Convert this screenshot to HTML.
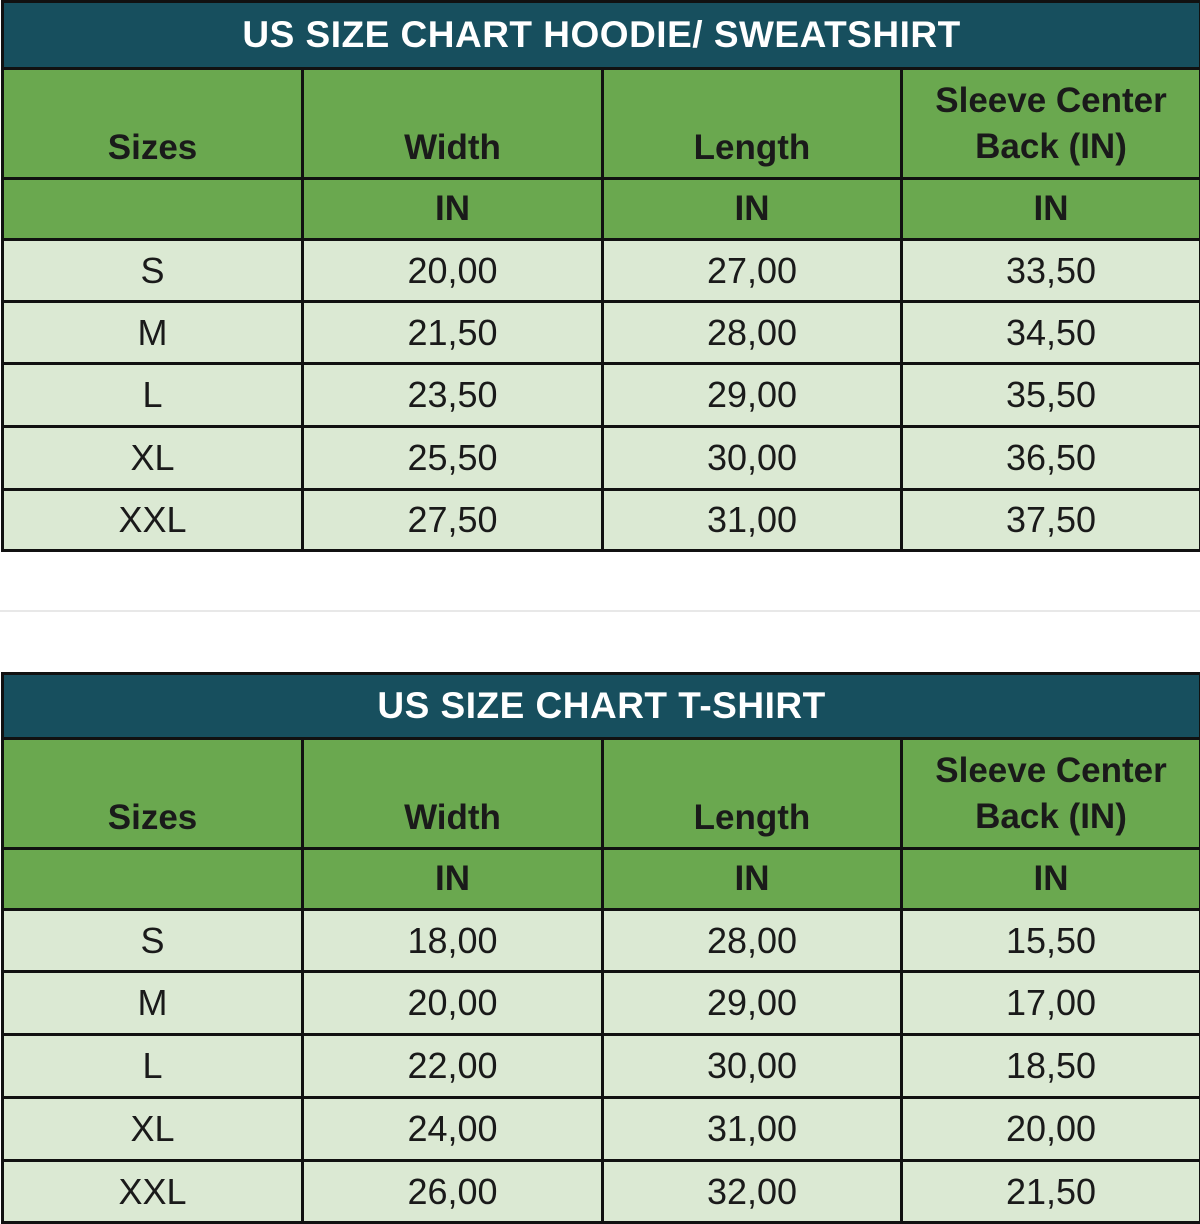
<!DOCTYPE html>
<html><head><meta charset="utf-8"><style>
html,body{margin:0;padding:0;background:#fff;width:1200px;height:1220px;overflow:hidden}
table{position:absolute;left:1px;width:1198px;border-collapse:collapse;table-layout:fixed;font-family:"Liberation Sans",sans-serif}
td{border:3px solid #111;text-align:center;vertical-align:middle;padding:0;color:#1a1a1a}
.t td{background:#174f5e;color:#fff;font-weight:bold;font-size:37px;letter-spacing:0.5px}
.h td{background:#6aa84f;font-weight:bold;font-size:35px;line-height:46px}
.h td.b{padding-top:48px}
.u td{background:#6aa84f;font-weight:bold;font-size:35px}
.d td{background:#dbe9d3;font-size:36px}
.line{position:absolute;left:0;width:1200px;height:2px;background:#e8e8e8;top:610px}
</style></head><body>
<div class="line"></div>
<table style="top:0">
<colgroup><col style="width:300px"><col style="width:300px"><col style="width:299px"><col style="width:299px"></colgroup>
<tr class="t" style="height:67px"><td colspan="4">US SIZE CHART HOODIE/ SWEATSHIRT</td></tr>
<tr class="h" style="height:110px"><td class="b">Sizes</td><td class="b">Width</td><td class="b">Length</td><td>Sleeve Center<br>Back (IN)</td></tr>
<tr class="u" style="height:61px"><td></td><td>IN</td><td>IN</td><td>IN</td></tr>
<tr class="d" style="height:62px"><td>S</td><td>20,00</td><td>27,00</td><td>33,50</td></tr>
<tr class="d" style="height:62px"><td>M</td><td>21,50</td><td>28,00</td><td>34,50</td></tr>
<tr class="d" style="height:63px"><td>L</td><td>23,50</td><td>29,00</td><td>35,50</td></tr>
<tr class="d" style="height:63px"><td>XL</td><td>25,50</td><td>30,00</td><td>36,50</td></tr>
<tr class="d" style="height:61px"><td>XXL</td><td>27,50</td><td>31,00</td><td>37,50</td></tr>
</table>
<table style="top:672px">
<colgroup><col style="width:300px"><col style="width:300px"><col style="width:299px"><col style="width:299px"></colgroup>
<tr class="t" style="height:65px"><td colspan="4">US SIZE CHART T-SHIRT</td></tr>
<tr class="h" style="height:110px"><td class="b">Sizes</td><td class="b">Width</td><td class="b">Length</td><td>Sleeve Center<br>Back (IN)</td></tr>
<tr class="u" style="height:61px"><td></td><td>IN</td><td>IN</td><td>IN</td></tr>
<tr class="d" style="height:62px"><td>S</td><td>18,00</td><td>28,00</td><td>15,50</td></tr>
<tr class="d" style="height:63px"><td>M</td><td>20,00</td><td>29,00</td><td>17,00</td></tr>
<tr class="d" style="height:63px"><td>L</td><td>22,00</td><td>30,00</td><td>18,50</td></tr>
<tr class="d" style="height:63px"><td>XL</td><td>24,00</td><td>31,00</td><td>20,00</td></tr>
<tr class="d" style="height:62px"><td>XXL</td><td>26,00</td><td>32,00</td><td>21,50</td></tr>
</table>
</body></html>
